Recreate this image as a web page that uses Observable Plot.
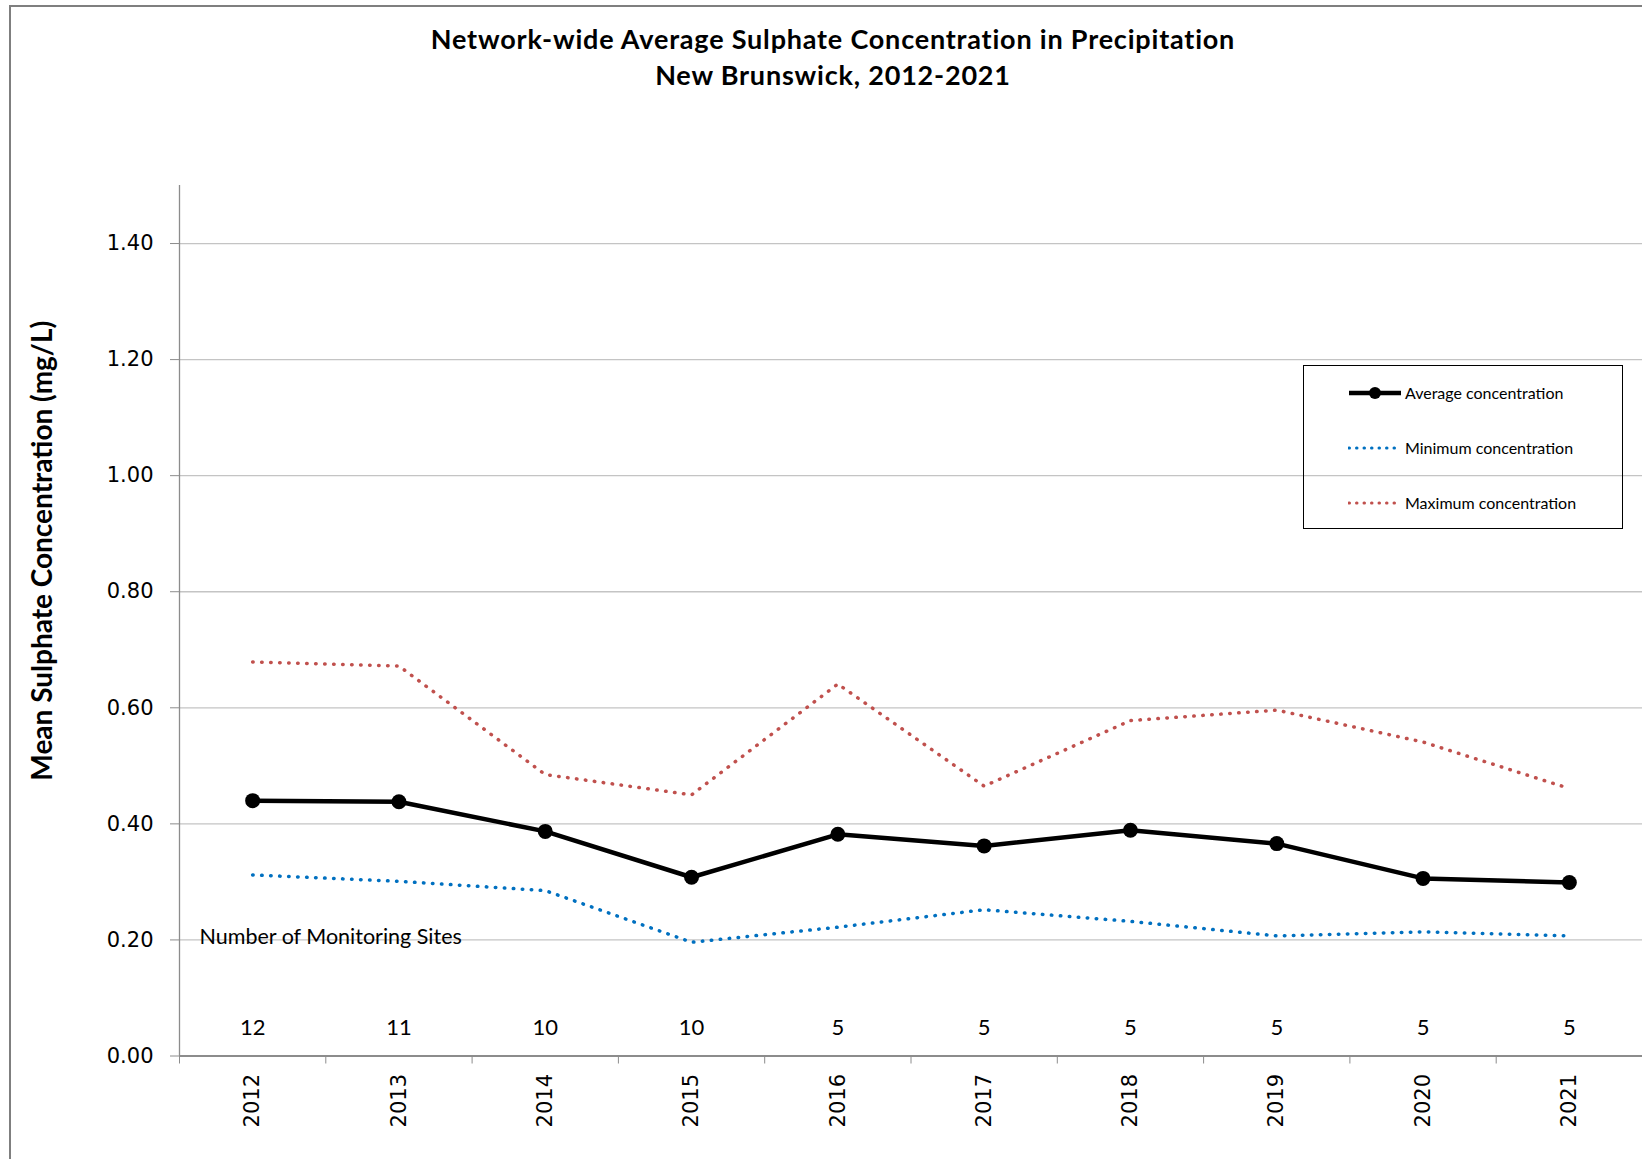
<!DOCTYPE html>
<html>
<head>
<meta charset="utf-8">
<script src="https://cdn.jsdelivr.net/npm/d3@7"></script>
<script src="https://cdn.jsdelivr.net/npm/@observablehq/plot@0.6"></script>
<style>
  html, body { margin: 0; padding: 0; background: #fff; }
  #wrap { position: relative; width: 1642px; height: 1159px; overflow: hidden; background: #fff; }
  #border { position: absolute; left: 9px; top: 5px; width: 2000px; height: 2000px;
            border-left: 2px solid #7f7f7f; border-top: 2px solid #7f7f7f; }
  .title { position: absolute; left: 0; width: 1666px; text-align: center;
           font-family: Lato, "Open Sans", sans-serif; font-weight: 700; font-size: 27px; color: #000;
           letter-spacing: 0.8px; line-height: 30px; }
  #chart { position: absolute; left: 0; top: 0; }
  #legend { position: absolute; left: 1303px; top: 365px; width: 318px; height: 162px;
            border: 1.5px solid #000; }
  .lrow { position: absolute; left: 0; height: 20px; }
  .lrow svg { position: absolute; left: 44px; top: 0; }
  .lrow span { position: absolute; left: 101px; top: 0; line-height: 20px; white-space: nowrap;
               font-family: Lato, "Open Sans", sans-serif; font-size: 16px; color: #000; }
</style>
</head>
<body>
<div id="wrap">
  <div id="border"></div>
  <div class="title" style="top:24px">Network-wide Average Sulphate Concentration in Precipitation</div>
  <div class="title" style="top:60px">New Brunswick, 2012-2021</div>
  <div id="chart"></div>
  <div id="legend"></div>
</div>
<script>
// ---- data ----
const years   = [2012, 2013, 2014, 2015, 2016, 2017, 2018, 2019, 2020, 2021];
const avgConc = [0.440, 0.438, 0.387, 0.308, 0.382, 0.362, 0.389, 0.366, 0.306, 0.299];
const minConc = [0.312, 0.301, 0.285, 0.196, 0.222, 0.252, 0.232, 0.207, 0.214, 0.207];
const maxConc = [0.679, 0.672, 0.485, 0.450, 0.641, 0.465, 0.578, 0.596, 0.541, 0.461];
const sites   = [12, 11, 10, 10, 5, 5, 5, 5, 5, 5];
const yTicks  = [0, 0.2, 0.4, 0.6, 0.8, 1.0, 1.2, 1.4];
const sitesLabel = "Number of Monitoring Sites";
const yLabel = "Mean Sulphate Concentration (mg/L)";
const seriesNames = ["Average concentration", "Minimum concentration", "Maximum concentration"];
const seriesColors = ["#000000", "#0070c0", "#c0504d"];

const rows = years.map((y, i) => ({year: y, avg: avgConc[i], min: minConc[i], max: maxConc[i], sites: sites[i]}));
const bounds = d3.range(years[0] - 0.5, years[years.length - 1] + 1, 1);

const axisGray = "#8c8c8c";
const tickFont = "'DejaVu Sans', Verdana, sans-serif";
const calibriLike = "Lato, 'Open Sans', sans-serif";

const plot = Plot.plot({
  width: 1642,
  height: 1159,
  marginTop: 185,
  marginBottom: 103.5,
  marginLeft: 179,
  marginRight: 0,
  style: {fontFamily: tickFont, background: "transparent", color: "#000", overflow: "visible"},
  x: {domain: [years[0] - 0.5, years[years.length - 1] + 0.5]},
  y: {domain: [0, 1.5]},
  marks: [
    Plot.gridY(yTicks.filter(d => d > 0), {stroke: "#c4c4c4", strokeOpacity: 1, strokeWidth: 1.3}),
    Plot.ruleX([bounds[0]], {y1: 0, y2: 1.5, stroke: axisGray, strokeWidth: 1.3}),
    Plot.ruleY([0], {stroke: axisGray, strokeWidth: 2}),
    Plot.axisY({ticks: yTicks, tickSize: 9, tickPadding: 17, tickFormat: d3.format(".2f"),
                fontSize: 21, label: null, stroke: axisGray, fill: "#000"}),
    Plot.axisX({ticks: bounds, tickSize: 8, tickFormat: () => "", label: null, stroke: axisGray}),
    Plot.axisX({ticks: years, tickSize: 0, tickPadding: 18, tickRotate: -90, tickFormat: d => String(d),
                fontSize: 21, label: null, fill: "#000"}),
    Plot.text([yLabel], {frameAnchor: "left", textAnchor: "middle", dx: -136, dy: -70, rotate: -90, text: d => d,
                         fontFamily: calibriLike, fontWeight: "bold", fontSize: 28, fill: "#000"}),
    Plot.text([sitesLabel], {frameAnchor: "left", y: () => 0.205, dx: 20, textAnchor: "start", text: d => d,
                             fontFamily: calibriLike, fontSize: 21.5, fill: "#000"}),
    Plot.text(rows, {x: "year", y: () => 0.049, text: d => String(d.sites),
                     fontFamily: calibriLike, fontSize: 22, fill: "#000"}),
    Plot.line(rows, {x: "year", y: "max", stroke: seriesColors[2], strokeWidth: 3.5,
                     strokeDasharray: "0.5,8.5", strokeLinecap: "round"}),
    Plot.line(rows, {x: "year", y: "min", stroke: seriesColors[1], strokeWidth: 3.5,
                     strokeDasharray: "0.5,8.5", strokeLinecap: "round"}),
    Plot.line(rows, {x: "year", y: "avg", stroke: seriesColors[0], strokeWidth: 4.5}),
    Plot.dot(rows, {x: "year", y: "avg", r: 7.5, fill: seriesColors[0], stroke: "none"})
  ]
});
document.getElementById("chart").appendChild(plot);

// legend (inside the plot area, transparent box)
const legend = document.getElementById("legend");
const rowTops = [17, 72, 127];
seriesNames.forEach((name, i) => {
  const r = document.createElement("div");
  r.className = "lrow";
  r.style.top = rowTops[i] + "px";
  const dash = i === 0 ? "" : 'stroke-dasharray="0.5,7" stroke-linecap="round"';
  const sw = i === 0 ? 4.5 : 3;
  let inner = `<line x1="1" y1="10" x2="53" y2="10" stroke="${seriesColors[i]}" stroke-width="${sw}" ${dash}/>`;
  if (i === 0) inner += `<circle cx="27" cy="10" r="6" fill="#000"/>`;
  r.innerHTML = `<svg width="56" height="20">${inner}</svg><span>${name}</span>`;
  legend.appendChild(r);
});
</script>
</body>
</html>
